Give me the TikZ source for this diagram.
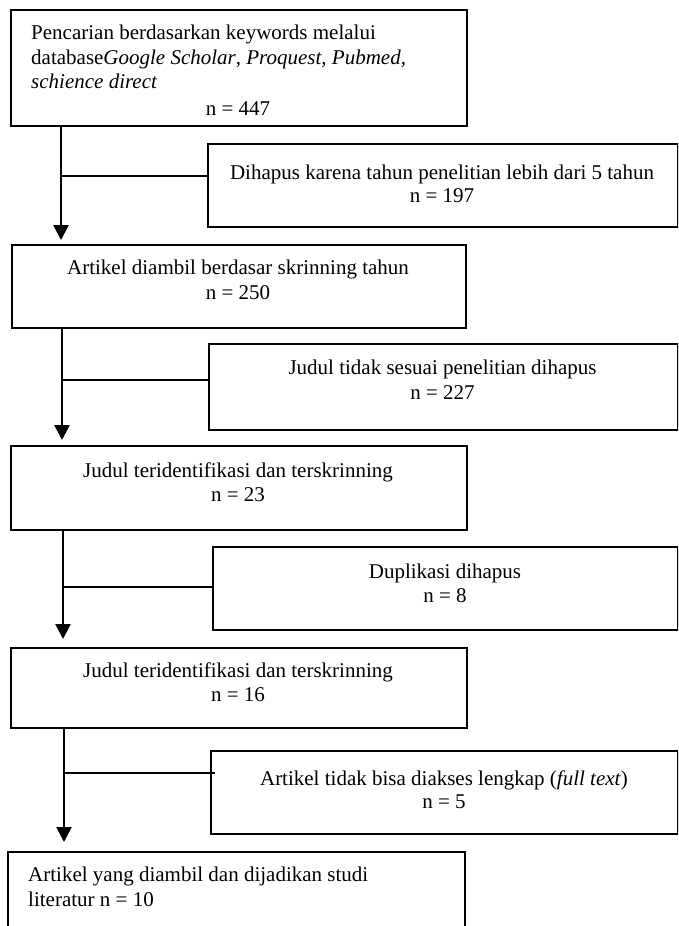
\documentclass[tikz,border=0pt]{standalone}
\usepackage{fontspec}
\setmainfont{Liberation Serif}
\usetikzlibrary{arrows.meta}
\begin{document}
\begin{tikzpicture}[x=1pt,y=-1pt,
  boxnode/.style={draw=black, line width=1.8pt, rectangle, inner sep=0pt, anchor=north west},
  txt/.style={font=\fontsize{21}{24.5}\selectfont, inner sep=0pt, anchor=base},
  txtl/.style={txt, anchor=base west},
  flowline/.style={draw=black, line width=2.6pt, -{Triangle[width=15pt,length=15pt]}},
  branchline/.style={draw=black, line width=2pt}
]
\useasboundingbox (0,0) rectangle (678,926);
\clip (0,0) rectangle (678,926);

% boxes
\node[boxnode, minimum width=456pt, minimum height=116pt] (b1) at (10,9) {};
\node[boxnode, minimum width=470pt, minimum height=83pt] (b2) at (207,143) {};
\node[boxnode, minimum width=454pt, minimum height=83pt] (b3) at (11,244) {};
\node[boxnode, minimum width=469pt, minimum height=86pt] (b4) at (208,343) {};
\node[boxnode, minimum width=456pt, minimum height=84pt] (b5) at (10,445) {};
\node[boxnode, minimum width=465pt, minimum height=83pt] (b6) at (212,546) {};
\node[boxnode, minimum width=456pt, minimum height=80pt] (b7) at (10,647) {};
\node[boxnode, minimum width=467pt, minimum height=83pt] (b8) at (210,750) {};
\node[boxnode, minimum width=457pt, minimum height=95pt] (b9) at (7,851) {};

% texts
\node[txtl] (t1a) at (31,39.5) {Pencarian berdasarkan keywords melalui};
\node[txtl] (t1b) at (31,64) {database\textit{Google Scholar}, \textit{Proquest}, \textit{Pubmed,}};
\node[txtl] (t1c) at (31,88.5) {\textit{schience direct}};
\node[txt] (t1d) at (238,115) {n = 447};

\node[txt] (t2a) at (442,179) {Dihapus karena tahun penelitian lebih dari 5 tahun};
\node[txt] (t2b) at (442,202) {n = 197};

\node[txt] (t3a) at (238,274) {Artikel diambil berdasar skrinning tahun};
\node[txt] (t3b) at (238,299) {n = 250};

\node[txt] (t4a) at (442.5,374) {Judul tidak sesuai penelitian dihapus};
\node[txt] (t4b) at (442.5,399) {n = 227};

\node[txt] (t5a) at (238,477) {Judul teridentifikasi dan terskrinning};
\node[txt] (t5b) at (238,501) {n = 23};

\node[txt] (t6a) at (445,578) {Duplikasi dihapus};
\node[txt] (t6b) at (445,602) {n = 8};

\node[txt] (t7a) at (238,677) {Judul teridentifikasi dan terskrinning};
\node[txt] (t7b) at (238,701) {n = 16};

\node[txt] (t8a) at (444,785) {Artikel tidak bisa diakses lengkap (\textit{full text})};
\node[txt] (t8b) at (444,808) {n = 5};

\node[txtl] (t9a) at (28,881) {Artikel yang diambil dan dijadikan studi};
\node[txtl] (t9b) at (28,906) {literatur n = 10};

% junctions
\coordinate (j1) at (61,176);
\coordinate (j2) at (62,380);
\coordinate (j3) at (63,587);
\coordinate (j4) at (64,773);

% connectors
\draw[flowline] (b1.south -| j1) -- ([yshift=4pt]b3.north -| j1);
\draw[branchline] (j1) -- (b2.west |- j1);
\draw[flowline] (b3.south -| j2) -- ([yshift=5pt]b5.north -| j2);
\draw[branchline] (j2) -- (b4.west |- j2);
\draw[flowline] (b5.south -| j3) -- ([yshift=8pt]b7.north -| j3);
\draw[branchline] (j3) -- (b6.west |- j3);
\draw[flowline] (b7.south -| j4) -- ([yshift=9pt]b9.north -| j4);
\draw[branchline] (j4) -- ([xshift=5pt]b8.west |- j4);
\end{tikzpicture}
\end{document}
